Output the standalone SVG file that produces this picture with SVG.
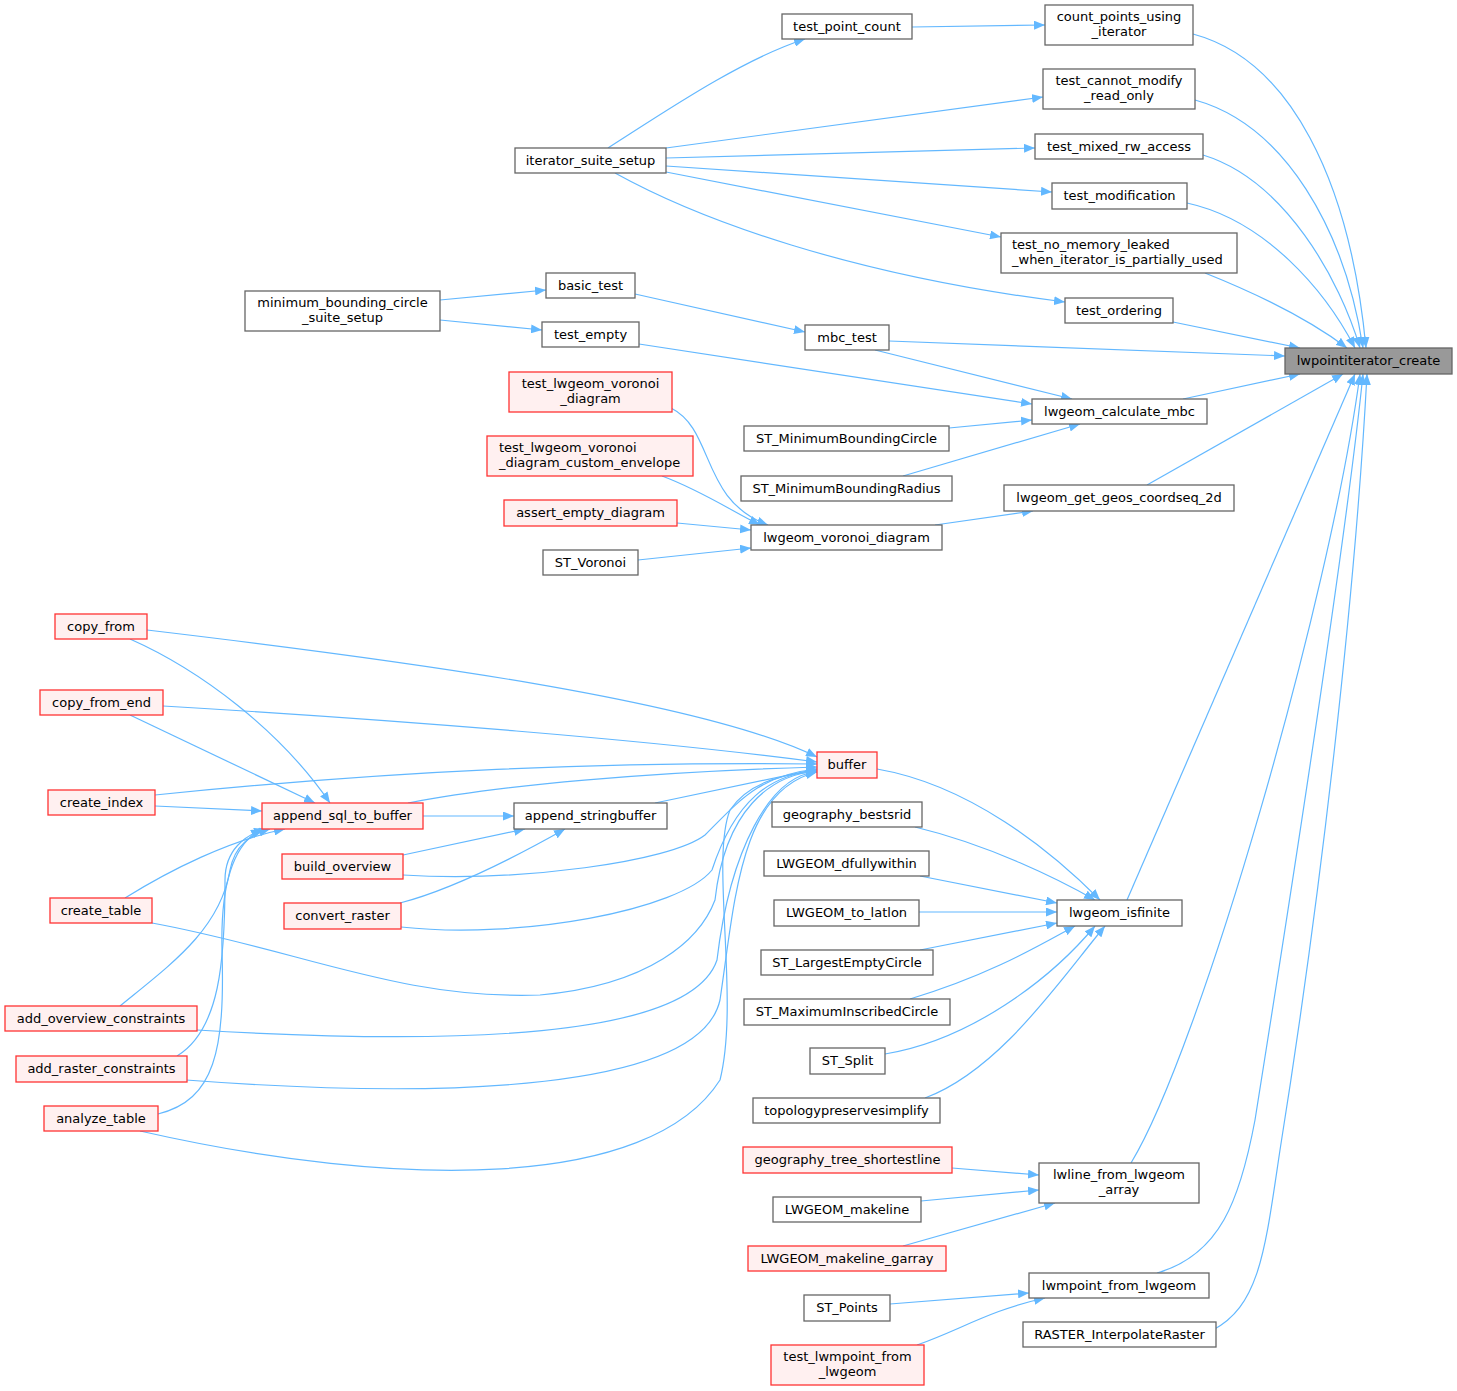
<svg xmlns="http://www.w3.org/2000/svg" width="1457" height="1391" viewBox="0 0 1457 1391">
<defs>
<marker id="ah" viewBox="0 0 11 9" markerWidth="11" markerHeight="9" refX="11" refY="4.5" orient="auto" markerUnits="userSpaceOnUse">
<path d="M0,0 L11,4.5 L0,9 Z" fill="#63b8ff"/>
</marker>
<style>
.n rect{fill:#ffffff;stroke:#666666;stroke-width:1.3}
.r rect{fill:#fff0f0;stroke:#ff3333;stroke-width:1.3}
.root rect{fill:#999999;stroke:#666666;stroke-width:1.3}
text{font-family:"DejaVu Sans","Liberation Sans",sans-serif;font-size:13px;fill:#000000}
.c{text-anchor:middle}
#edges path{fill:none;stroke:#63b8ff;stroke-width:1.2;marker-end:url(#ah)}
</style>
</defs>
<rect x="0" y="0" width="1457" height="1391" fill="#ffffff"/>
<g id="edges">
<path d="M1193,34 C1290,60 1350,180 1366,348"/>
<path d="M1195,100 C1285,125 1345,230 1363,348"/>
<path d="M1203,155 C1285,180 1340,280 1360,348"/>
<path d="M1187,203 C1265,220 1325,290 1355,348"/>
<path d="M1205,273 C1260,295 1310,320 1347,348"/>
<path d="M1173,322 L1300,348"/>
<path d="M889,341 L1285,356"/>
<path d="M1183,399 L1300,374"/>
<path d="M1147,485 L1343,374"/>
<path d="M1127,900 L1355,374"/>
<path d="M1131,1163 C1200,1050 1330,600 1360,374"/>
<path d="M1157,1273 C1220,1255 1240,1200 1255,1120 C1290,900 1345,550 1363,374"/>
<path d="M1213,1330 C1260,1305 1265,1250 1280,1150 C1320,900 1355,600 1367,374"/>
<path d="M912,27 L1045,25"/>
<path d="M608,148 C660,115 740,60 805,39"/>
<path d="M666,148 L1043,97"/>
<path d="M666,158 L1035,148"/>
<path d="M666,166 L1052,192"/>
<path d="M666,172 L1001,237"/>
<path d="M615,173 C700,220 850,275 1065,302"/>
<path d="M440,300 L546,290"/>
<path d="M440,320 L542,330"/>
<path d="M635,294 L805,332"/>
<path d="M639,344 L1032,404"/>
<path d="M875,350 L1072,399"/>
<path d="M949,428 L1032,420"/>
<path d="M903,476 L1080,424"/>
<path d="M935,525 L1033,511"/>
<path d="M671,408 C715,430 700,500 768,525"/>
<path d="M662,476 C700,490 730,510 760,525"/>
<path d="M677,523 L751,530"/>
<path d="M638,560 L751,548"/>
<path d="M147,630 C400,660 700,700 817,757"/>
<path d="M163,706 C400,720 650,740 817,762"/>
<path d="M155,795 C400,770 600,762 817,764"/>
<path d="M408,803 C500,785 650,772 817,767"/>
<path d="M655,803 L817,769"/>
<path d="M130,639 C200,670 280,730 330,803"/>
<path d="M130,715 L315,803"/>
<path d="M155,806 L262,811"/>
<path d="M423,816 L514,816"/>
<path d="M403,855 L525,829"/>
<path d="M400,903 C450,890 510,860 565,829"/>
<path d="M403,875 C520,882 670,862 705,835 C740,800 760,775 817,769"/>
<path d="M401,927 C520,940 680,910 712,870 C735,800 770,775 817,770"/>
<path d="M152,923 C300,950 400,1000 540,995 C650,985 700,940 715,900 C725,810 770,775 817,771"/>
<path d="M125,898 C170,870 230,840 285,829"/>
<path d="M120,1006 C170,965 220,930 230,870 C235,845 250,835 270,829"/>
<path d="M197,1030 C450,1045 690,1040 717,960 C730,850 770,775 817,772"/>
<path d="M177,1056 C220,1030 225,960 225,880 C225,850 245,835 265,829"/>
<path d="M186,1080 C450,1100 700,1090 720,1000 C735,900 740,790 817,772"/>
<path d="M158,1114 C215,1100 225,1050 222,950 C220,870 240,840 262,829"/>
<path d="M140,1131 C400,1190 650,1190 720,1080 C740,1000 710,860 730,810 C750,780 790,773 817,772"/>
<path d="M877,769 C970,785 1050,850 1100,900"/>
<path d="M915,827 C990,845 1060,880 1095,900"/>
<path d="M920,876 L1057,903"/>
<path d="M919,912 L1057,912"/>
<path d="M920,950 L1057,923"/>
<path d="M910,999 C990,975 1040,945 1075,926"/>
<path d="M885,1054 C970,1040 1050,980 1095,926"/>
<path d="M925,1098 C1000,1070 1060,980 1105,926"/>
<path d="M952,1168 L1039,1175"/>
<path d="M921,1201 L1039,1190"/>
<path d="M903,1246 L1055,1203"/>
<path d="M890,1304 L1029,1293"/>
<path d="M917,1345 C960,1330 990,1310 1045,1298"/>
</g>
<g id="lwpointiterator_create" class="root"><rect x="1285" y="348" width="167" height="26"/><text class="c" x="1368.5" y="365">lwpointiterator_create</text></g>
<g id="count_points_using_iterator" class="n"><rect x="1045" y="5" width="148" height="40"/><text class="c" x="1119" y="21">count_points_using</text><text class="c" x="1119" y="36">_iterator</text></g>
<g id="test_cannot_modify_read_only" class="n"><rect x="1043" y="69" width="152" height="40"/><text class="c" x="1119" y="85">test_cannot_modify</text><text class="c" x="1119" y="100">_read_only</text></g>
<g id="test_mixed_rw_access" class="n"><rect x="1035" y="134" width="168" height="25"/><text class="c" x="1119" y="151">test_mixed_rw_access</text></g>
<g id="test_modification" class="n"><rect x="1052" y="183" width="135" height="26"/><text class="c" x="1119.5" y="200">test_modification</text></g>
<g id="test_no_memory_leaked_when_iterator_is_partially_used" class="n"><rect x="1001" y="233" width="236" height="40"/><text x="1012" y="249">test_no_memory_leaked</text><text x="1012" y="264">_when_iterator_is_partially_used</text></g>
<g id="test_ordering" class="n"><rect x="1065" y="298" width="108" height="25"/><text class="c" x="1119" y="315">test_ordering</text></g>
<g id="lwgeom_calculate_mbc" class="n"><rect x="1032" y="399" width="175" height="25"/><text class="c" x="1119.5" y="416">lwgeom_calculate_mbc</text></g>
<g id="lwgeom_get_geos_coordseq_2d" class="n"><rect x="1004" y="485" width="230" height="26"/><text class="c" x="1119" y="502">lwgeom_get_geos_coordseq_2d</text></g>
<g id="lwgeom_isfinite" class="n"><rect x="1057" y="900" width="125" height="26"/><text class="c" x="1119.5" y="917">lwgeom_isfinite</text></g>
<g id="lwline_from_lwgeom_array" class="n"><rect x="1039" y="1163" width="160" height="40"/><text class="c" x="1119" y="1179">lwline_from_lwgeom</text><text class="c" x="1119" y="1194">_array</text></g>
<g id="lwmpoint_from_lwgeom" class="n"><rect x="1029" y="1273" width="180" height="25"/><text class="c" x="1119" y="1290">lwmpoint_from_lwgeom</text></g>
<g id="RASTER_InterpolateRaster" class="n"><rect x="1023" y="1322" width="193" height="25"/><text class="c" x="1119.5" y="1339">RASTER_InterpolateRaster</text></g>
<g id="test_point_count" class="n"><rect x="782" y="14" width="130" height="25"/><text class="c" x="847" y="31">test_point_count</text></g>
<g id="mbc_test" class="n"><rect x="805" y="325" width="84" height="25"/><text class="c" x="847" y="342">mbc_test</text></g>
<g id="ST_MinimumBoundingCircle" class="n"><rect x="744" y="426" width="205" height="25"/><text class="c" x="846.5" y="443">ST_MinimumBoundingCircle</text></g>
<g id="ST_MinimumBoundingRadius" class="n"><rect x="741" y="476" width="211" height="25"/><text class="c" x="846.5" y="493">ST_MinimumBoundingRadius</text></g>
<g id="lwgeom_voronoi_diagram" class="n"><rect x="751" y="525" width="191" height="25"/><text class="c" x="846.5" y="542">lwgeom_voronoi_diagram</text></g>
<g id="buffer" class="r"><rect x="817" y="752" width="60" height="26"/><text class="c" x="847" y="769">buffer</text></g>
<g id="geography_bestsrid" class="n"><rect x="772" y="802" width="150" height="25"/><text class="c" x="847" y="819">geography_bestsrid</text></g>
<g id="LWGEOM_dfullywithin" class="n"><rect x="764" y="851" width="165" height="25"/><text class="c" x="846.5" y="868">LWGEOM_dfullywithin</text></g>
<g id="LWGEOM_to_latlon" class="n"><rect x="774" y="900" width="145" height="26"/><text class="c" x="846.5" y="917">LWGEOM_to_latlon</text></g>
<g id="ST_LargestEmptyCircle" class="n"><rect x="761" y="950" width="172" height="25"/><text class="c" x="847" y="967">ST_LargestEmptyCircle</text></g>
<g id="ST_MaximumInscribedCircle" class="n"><rect x="744" y="999" width="206" height="26"/><text class="c" x="847" y="1016">ST_MaximumInscribedCircle</text></g>
<g id="ST_Split" class="n"><rect x="810" y="1048" width="75" height="26"/><text class="c" x="847.5" y="1065">ST_Split</text></g>
<g id="topologypreservesimplify" class="n"><rect x="753" y="1098" width="187" height="25"/><text class="c" x="846.5" y="1115">topologypreservesimplify</text></g>
<g id="geography_tree_shortestline" class="r"><rect x="743" y="1147" width="209" height="26"/><text class="c" x="847.5" y="1164">geography_tree_shortestline</text></g>
<g id="LWGEOM_makeline" class="n"><rect x="773" y="1197" width="148" height="25"/><text class="c" x="847" y="1214">LWGEOM_makeline</text></g>
<g id="LWGEOM_makeline_garray" class="r"><rect x="748" y="1246" width="198" height="25"/><text class="c" x="847" y="1263">LWGEOM_makeline_garray</text></g>
<g id="ST_Points" class="n"><rect x="804" y="1295" width="86" height="26"/><text class="c" x="847" y="1312">ST_Points</text></g>
<g id="test_lwmpoint_from_lwgeom" class="r"><rect x="771" y="1345" width="153" height="40"/><text class="c" x="847.5" y="1361">test_lwmpoint_from</text><text class="c" x="847.5" y="1376">_lwgeom</text></g>
<g id="iterator_suite_setup" class="n"><rect x="515" y="148" width="151" height="25"/><text class="c" x="590.5" y="165">iterator_suite_setup</text></g>
<g id="basic_test" class="n"><rect x="546" y="273" width="89" height="25"/><text class="c" x="590.5" y="290">basic_test</text></g>
<g id="test_empty" class="n"><rect x="542" y="322" width="97" height="25"/><text class="c" x="590.5" y="339">test_empty</text></g>
<g id="test_lwgeom_voronoi_diagram" class="r"><rect x="509" y="372" width="163" height="40"/><text class="c" x="590.5" y="388">test_lwgeom_voronoi</text><text class="c" x="590.5" y="403">_diagram</text></g>
<g id="test_lwgeom_voronoi_diagram_custom_envelope" class="r"><rect x="487" y="436" width="206" height="40"/><text x="499" y="452">test_lwgeom_voronoi</text><text x="499" y="467">_diagram_custom_envelope</text></g>
<g id="assert_empty_diagram" class="r"><rect x="504" y="500" width="173" height="26"/><text class="c" x="590.5" y="517">assert_empty_diagram</text></g>
<g id="ST_Voronoi" class="n"><rect x="543" y="550" width="95" height="25"/><text class="c" x="590.5" y="567">ST_Voronoi</text></g>
<g id="append_stringbuffer" class="n"><rect x="514" y="803" width="153" height="26"/><text class="c" x="590.5" y="820">append_stringbuffer</text></g>
<g id="minimum_bounding_circle_suite_setup" class="n"><rect x="245" y="291" width="195" height="40"/><text class="c" x="342.5" y="307">minimum_bounding_circle</text><text class="c" x="342.5" y="322">_suite_setup</text></g>
<g id="append_sql_to_buffer" class="r"><rect x="262" y="803" width="161" height="26"/><text class="c" x="342.5" y="820">append_sql_to_buffer</text></g>
<g id="build_overview" class="r"><rect x="282" y="854" width="121" height="25"/><text class="c" x="342.5" y="871">build_overview</text></g>
<g id="convert_raster" class="r"><rect x="284" y="903" width="117" height="26"/><text class="c" x="342.5" y="920">convert_raster</text></g>
<g id="copy_from" class="r"><rect x="55" y="614" width="92" height="25"/><text class="c" x="101" y="631">copy_from</text></g>
<g id="copy_from_end" class="r"><rect x="40" y="690" width="123" height="25"/><text class="c" x="101.5" y="707">copy_from_end</text></g>
<g id="create_index" class="r"><rect x="48" y="790" width="107" height="25"/><text class="c" x="101.5" y="807">create_index</text></g>
<g id="create_table" class="r"><rect x="50" y="898" width="102" height="25"/><text class="c" x="101" y="915">create_table</text></g>
<g id="add_overview_constraints" class="r"><rect x="5" y="1006" width="192" height="25"/><text class="c" x="101" y="1023">add_overview_constraints</text></g>
<g id="add_raster_constraints" class="r"><rect x="16" y="1056" width="171" height="26"/><text class="c" x="101.5" y="1073">add_raster_constraints</text></g>
<g id="analyze_table" class="r"><rect x="44" y="1106" width="114" height="25"/><text class="c" x="101" y="1123">analyze_table</text></g>
</svg>
